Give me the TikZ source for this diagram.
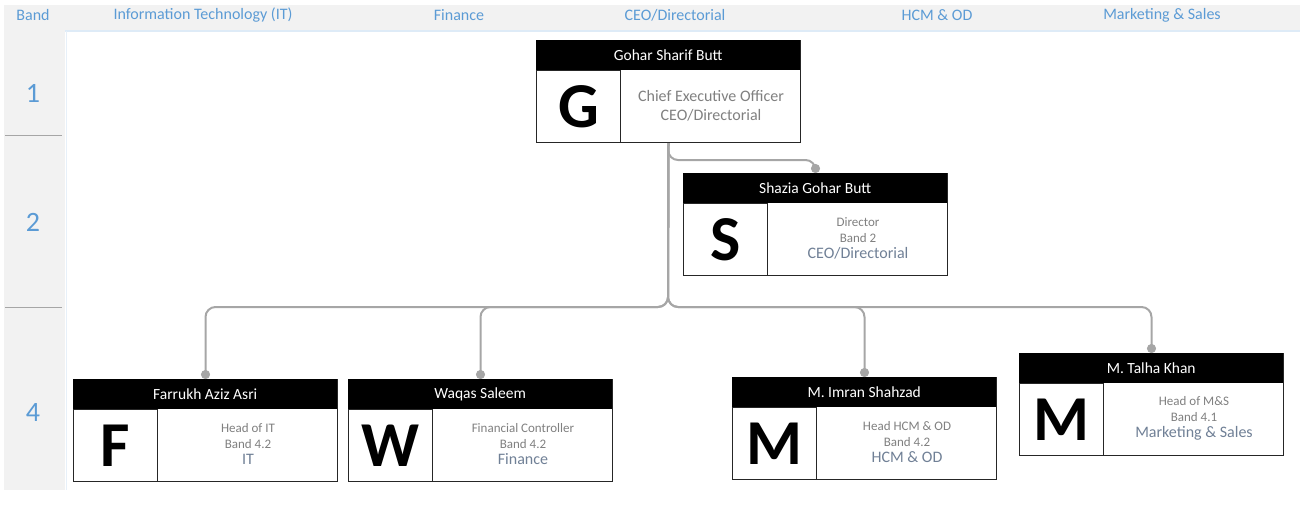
\documentclass[tikz,border=0pt]{standalone}
\usepackage{fontspec}
\setmainfont{Carlito}
\usetikzlibrary{positioning}
\usetikzlibrary{arrows.meta}
\definecolor{bandblue}{RGB}{91,155,213}
\definecolor{panel}{RGB}{242,242,242}
\definecolor{linkgray}{RGB}{166,166,166}
\definecolor{textgray}{RGB}{128,128,128}
\definecolor{deptgray}{RGB}{112,128,150}
\tikzset{
card/.style={ % outer frame of a person card
draw=black!85, line width=1pt, fill=white,
anchor=north west, inner sep=0pt,
minimum width=264pt, minimum height=102pt},
cardhead/.style={ % black name bar
fill=black, text=white, anchor=north west, inner sep=0pt,
minimum width=264pt, minimum height=30pt,
font=\fontsize{15.5}{17}\selectfont},
cardletter/.style={ % big initial
draw=black!85, line width=1pt, anchor=north west, inner sep=0pt,
minimum width=84pt, minimum height=72pt,
font=\fontsize{64}{64}\selectfont\bfseries},
cardtext/.style={text=textgray, align=center, yshift=2pt,
font=\fontsize{13}{16}\selectfont},
bigtext/.style={cardtext, yshift=-1pt, font=\fontsize{16}{19}\selectfont},
colhead/.style={text=bandblue, font=\fontsize{16}{18}\selectfont},
bandnum/.style={text=bandblue, font=\fontsize{28}{30}\selectfont},
link/.style={ % reporting line with round end
draw=linkgray, line width=2pt, rounded corners=10pt,
-{Circle[length=9pt]}}}
\newcommand{\dept}[1]{{\fontsize{16}{17}\selectfont\color{deptgray}#1}}
\newcommand{\orgcard}[6][cardtext]{%
\node[card] (#2) at (#3) {};
\node[cardhead] (#2-head) at (#2.north west) {#5};
\node[cardletter] (#2-letter) at (#2-head.south west) {#4};
\node[#1] (#2-text) at ([xshift=90pt]#2-letter.east) {#6};}

\begin{document}
\begin{tikzpicture}[x=1pt, y=-1pt]
\useasboundingbox (0,0) rectangle (1304,520);
% band column and department header
\fill[panel] (4,5) rectangle (65,490);
\fill[panel] (65,5) rectangle (1300,30);
\draw[bandblue!20, line width=1.5pt] (65,31) -- (1300,31);
\draw[bandblue!15, line width=1pt] (66,31) -- (66,490);
\draw[linkgray] (5,135) -- (62,135);
\draw[linkgray] (5,307) -- (62,307);
\node[colhead] (band) at (33,15) {Band};
\node[colhead] (hit) at (203,15) {Information Technology (IT)};
\node[colhead] (hfin) at (459,15) {Finance};
\node[colhead] (hceo) at (675,15) {CEO/Directorial};
\node[colhead] (hhcm) at (937,15) {HCM \& OD};
\node[colhead] (hms) at (1162,15) {Marketing \& Sales};
\node[bandnum] (b1) at (33,93) {1};
\node[bandnum] (b2) at (33,222) {2};
\node[bandnum] (b4) at (33,413) {4};
% cards
\orgcard[bigtext]{ceo}{536,40}{G}{Gohar Sharif Butt}{Chief Executive Officer\\CEO/Directorial}
\orgcard{shazia}{683,173}{S}{Shazia Gohar Butt}{Director\\Band 2\\\dept{CEO/Directorial}}
\orgcard{farrukh}{73,379}{F}{Farrukh Aziz Asri}{Head of IT\\Band 4.2\\\dept{IT}}
\orgcard{waqas}{348,379}{W}{Waqas Saleem}{Financial Controller\\Band 4.2\\\dept{Finance}}
\orgcard{imran}{732,377}{M}{M. Imran Shahzad}{Head HCM \& OD\\Band 4.2\\\dept{HCM \& OD}}
\orgcard{talha}{1019,353}{M}{M. Talha Khan}{Head of M\&S\\Band 4.1\\\dept{Marketing \& Sales}}
% reporting lines
\coordinate (sub) at (668,160);
\coordinate (bus) at (668,307);
\draw[link] (ceo.south) -- (sub) -| (shazia.north);
\draw[link] (ceo.south) -- (bus) -| (farrukh.north);
\draw[link] (ceo.south) -- (bus) -| (waqas.north);
\draw[link] (ceo.south) -- (bus) -| (imran.north);
\draw[link] (ceo.south) -- (bus) -| (talha.north);
\end{tikzpicture}
\end{document}
